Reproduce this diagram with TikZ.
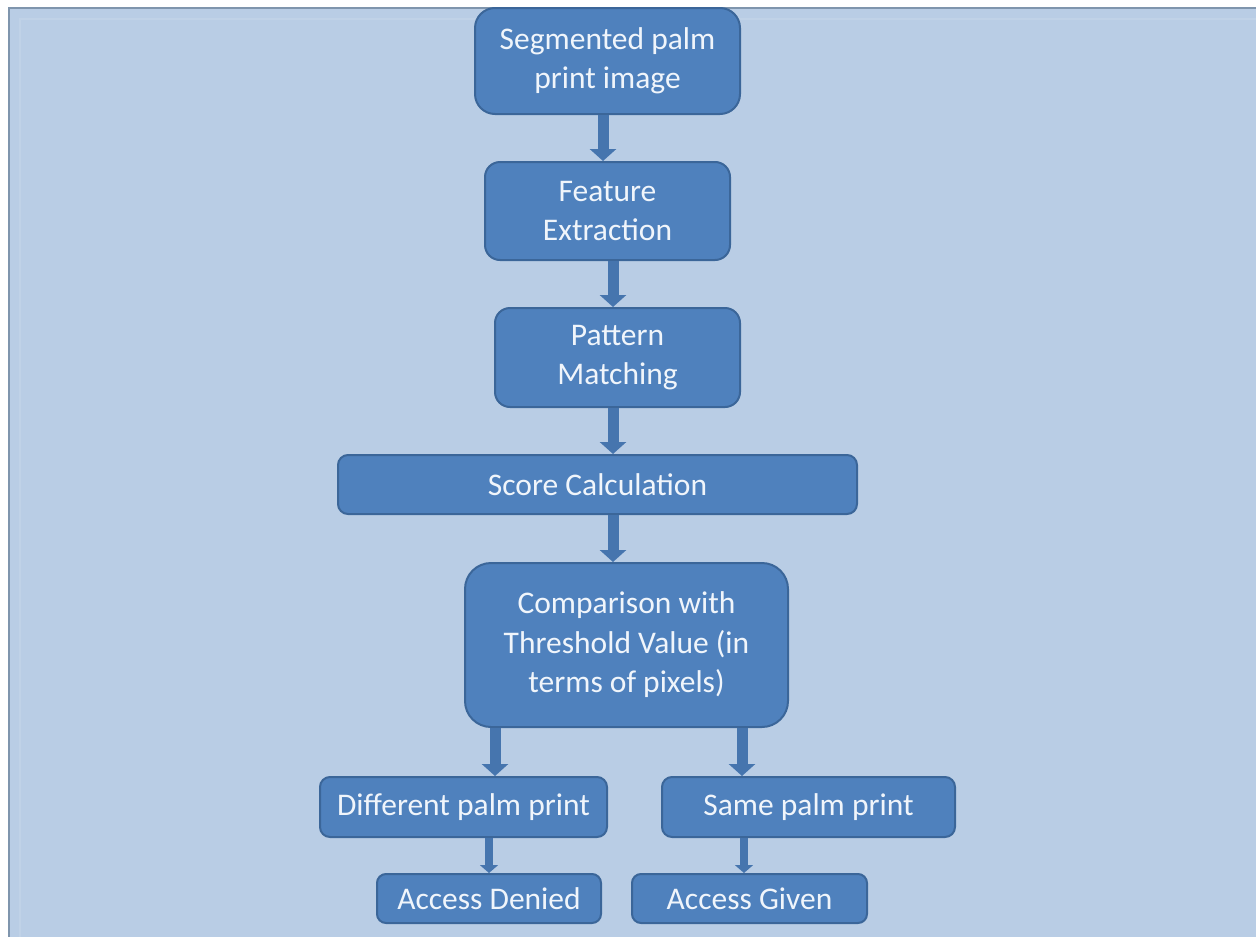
\documentclass[tikz,border=0pt]{standalone}
\usepackage{fontspec}
\setmainfont{Carlito}
\usetikzlibrary{arrows.meta,calc}
\definecolor{bg}{HTML}{B9CDE5}
\definecolor{boxfill}{HTML}{4F81BD}
\definecolor{boxline}{HTML}{3B6699}
\definecolor{arrcol}{HTML}{4675AE}
\definecolor{frameline}{HTML}{7F95AD}
\definecolor{txt}{HTML}{F0F5FB}
\begin{document}
\begin{tikzpicture}[x=1pt,y=-1pt,
  stepbox/.style={draw=boxline, line width=2pt, fill=boxfill, text=txt, align=center,
    font=\fontsize{31.5}{39.5}\selectfont, rounded corners=#1, inner sep=0pt},
  stepbox/.default=12pt,
  arr/.style={draw=arrcol, line width=11pt, -{Triangle[width=26pt,length=12pt]}},
  arrsmall/.style={draw=arrcol, line width=8pt, -{Triangle[width=18pt,length=8pt]}}]
\useasboundingbox (0,0) rectangle (1256,937);
\fill[white] (0,0) rectangle (1256,937);
\fill[bg] (8,7) rectangle (1256,937);
\draw[frameline, line width=2pt] (9,937) -- (9,8) -- (1256,8);
\draw[white, opacity=0.1, line width=2pt] (20,937) -- (20,19) -- (1256,19);

\node[stepbox=20pt, minimum width=265pt, minimum height=106pt] (A) at (607.5,61) {Segmented palm\\print image};
\node[stepbox=15pt, minimum width=245pt, minimum height=98pt] (B) at (607.5,211) {Feature\\Extraction};
\node[stepbox=15pt, minimum width=245pt, minimum height=99pt] (C) at (617.5,357.5) {Pattern\\Matching};
\node[stepbox=10pt, minimum width=519pt, minimum height=59pt] (D) at (597.5,484.5) {Score Calculation};
\node[stepbox=26pt, minimum width=323pt, minimum height=164pt] (E) at (626.5,645) {Comparison with\\Threshold Value (in\\terms of pixels)};
\node[stepbox=10pt, minimum width=287pt, minimum height=60pt] (F) at (463.5,807) {Different palm print};
\node[stepbox=10pt, minimum width=293pt, minimum height=60pt] (G) at (808.5,807) {Same palm print};
\node[stepbox=9pt, minimum width=224pt, minimum height=49pt] (H) at (489,898.5) {Access Denied};
\node[stepbox=9pt, minimum width=235pt, minimum height=49pt] (I) at (749.5,898.5) {Access Given};

\draw[arr] ([xshift=-4.5pt]A.south) -- ([xshift=-4.5pt]A.south |- B.north);
\draw[arr] ([xshift=5.5pt]B.south) -- ([xshift=5.5pt]B.south |- C.north);
\draw[arr] ([xshift=-4.5pt]C.south) -- ([xshift=-4.5pt]C.south |- D.north);
\draw[arr] ([xshift=15.5pt]D.south) -- ([xshift=15.5pt]D.south |- E.north);
\draw[arr] ([xshift=-131.5pt]E.south) -- ([xshift=-131.5pt]E.south |- F.north);
\draw[arr] ([xshift=115.5pt]E.south) -- ([xshift=115.5pt]E.south |- G.north);
\draw[arrsmall] (F.south -| H.north) -- (H.north);
\draw[arrsmall] ([xshift=-5.5pt]I.north |- G.south) -- ([xshift=-5.5pt]I.north);
\end{tikzpicture}
\end{document}
